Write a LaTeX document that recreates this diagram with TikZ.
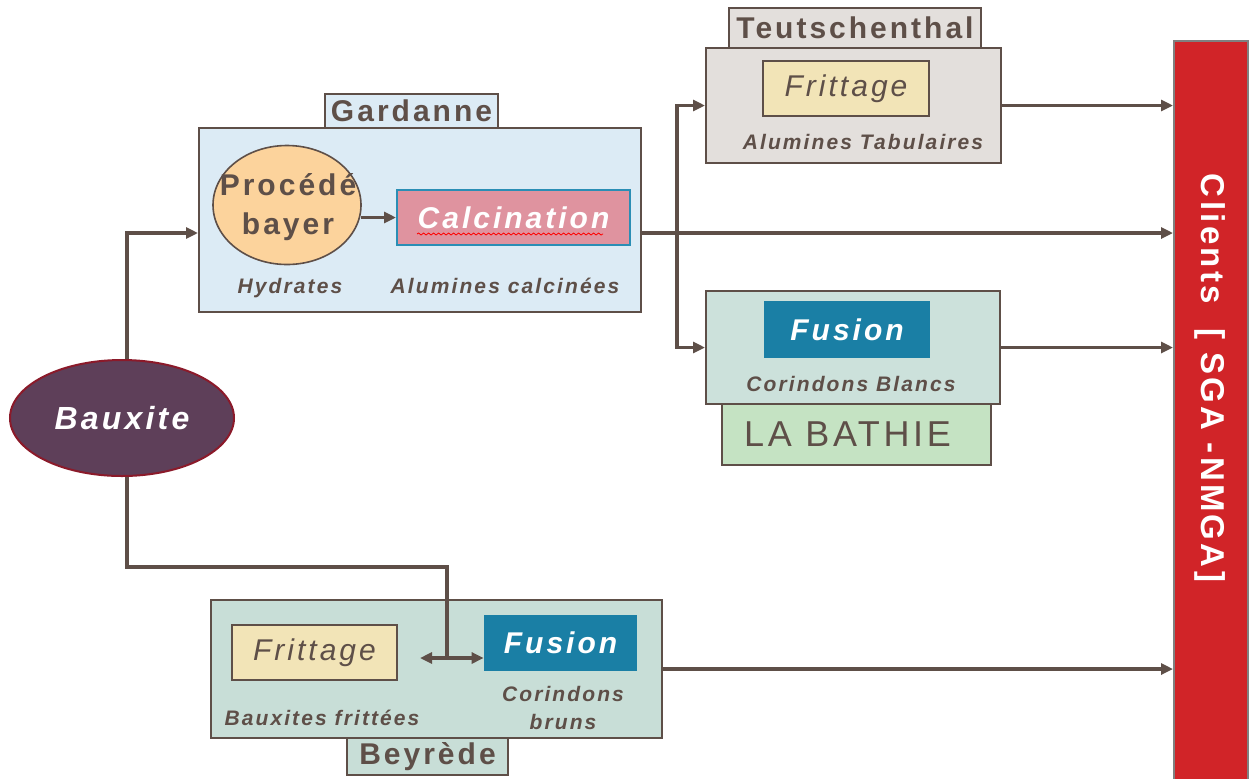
\documentclass[tikz,border=0pt]{standalone}
\usepackage{fontspec}
\setmainfont{Liberation Sans}
\newfontfamily\spf[LetterSpace=10]{Liberation Sans}
\usetikzlibrary{arrows.meta,shapes.geometric,decorations.pathmorphing}
\definecolor{ink}{HTML}{5E4F48}
\definecolor{gardfill}{HTML}{DCEBF5}
\definecolor{teutfill}{HTML}{E3DFDC}
\definecolor{labfill}{HTML}{CCE1DB}
\definecolor{bathfill}{HTML}{C5E3C3}
\definecolor{beyfill}{HTML}{C8DED7}
\definecolor{fritfill}{HTML}{F2E4B7}
\definecolor{fusfill}{HTML}{1A7FA5}
\definecolor{calcfill}{HTML}{DF939F}
\definecolor{calcline}{HTML}{2A8EB5}
\definecolor{bayfill}{HTML}{FCD39C}
\definecolor{bauxfill}{HTML}{5E3F59}
\definecolor{bauxline}{HTML}{8B1A2A}
\definecolor{clientfill}{HTML}{D12428}
\tikzset{
  box/.style={draw=ink, line width=1pt, rectangle, inner sep=0pt},
  sitelabel/.style={font=\spf\bfseries\fontsize{15pt}{17pt}\selectfont, text=ink},
  proc/.style={font=\spf\bfseries\itshape\fontsize{15pt}{17pt}\selectfont},
  sub/.style={font=\spf\bfseries\itshape\fontsize{10.5pt}{14pt}\selectfont, text=ink, align=center},
  arr/.style={draw=ink, line width=1.7pt, -{Triangle[length=6pt,width=5.5pt]}},
  conn/.style={draw=ink, line width=1.7pt}
}
\begin{document}
\begin{tikzpicture}[x=0.5pt,y=-0.5pt]
\useasboundingbox (0,0) rectangle (1251,778);
% Clients bar
\node[box, draw=gray, fill=clientfill, minimum width=37pt, minimum height=374.5pt] (clients) at (1211,415.5) {};
\node[rotate=-90, text=white, font=\spf\bfseries\fontsize{16.5pt}{18pt}\selectfont] (clientstxt) at (1210,378) {Clients\ \ [ SGA -NMGA]};
% Gardanne
\node[box, fill=gardfill, minimum width=221pt, minimum height=92pt] (gard) at (420,220) {};
\node[box, fill=gardfill, minimum width=86.5pt, minimum height=17pt, sitelabel] (gardlbl) at (411.5,111) {Gardanne};
\node[draw=ink, line width=0.8pt, ellipse, fill=bayfill, minimum width=74pt, minimum height=59.5pt, inner sep=0pt] (bayer) at (287,205) {};
\node[sitelabel, align=center, font=\spf\bfseries\fontsize{15pt}{19.5pt}\selectfont] (bayertxt) at (288,207) {Procédé\\bayer};
\node[draw=calcline, line width=1pt, fill=calcfill, minimum width=116.5pt, minimum height=27.5pt, inner sep=0pt, proc, text=white] (calc) at (513.5,217.5) {Calcination};
\draw[red, line width=0.4pt, decorate, decoration={snake, amplitude=0.5pt, segment length=2.5pt}] ([xshift=10.5pt,yshift=6pt]calc.south west) -- ([xshift=-14pt,yshift=6pt]calc.south east);
\node[sub] (hyd) at (290,288) {Hydrates};
\node[sub] (alcal) at (505,286) {Alumines calcinées};
\draw[arr] (bayer.east |- calc.west) ++(-1,0) coordinate (bx) -- (calc.west);
% Teutschenthal
\node[box, fill=teutfill, minimum width=147.5pt, minimum height=57.5pt] (teut) at (853.5,105.5) {};
\node[box, fill=teutfill, minimum width=126pt, minimum height=20pt, sitelabel] (teutlbl) at (855,28) {Teutschenthal};
\node[box, fill=fritfill, minimum width=83pt, minimum height=27.5pt, font=\spf\itshape\fontsize{15pt}{17pt}\selectfont, text=ink] (fritT) at (846,88.5) {\raisebox{-1.5pt}{Frittage}};
\node[sub] (altab) at (863,142) {Alumines Tabulaires};
% La Bathie
\node[box, fill=labfill, minimum width=147pt, minimum height=56.5pt] (lab) at (853,347.5) {};
\node[fill=fusfill, minimum width=83pt, minimum height=28.5pt, inner sep=0pt, proc, text=white] (fusL) at (847,329.5) {Fusion};
\node[sub] (corbl) at (851,384) {Corindons Blancs};
\node[box, fill=bathfill, minimum width=134.5pt, minimum height=30.5pt, text=ink, font=\spf\fontsize{18pt}{20pt}\selectfont] (bath) at (856.5,434.5) {\hspace*{-9pt}LA BATHIE};
% Beyrede
\node[box, fill=beyfill, minimum width=225.5pt, minimum height=69pt] (bey) at (436.5,669) {};
\node[box, fill=beyfill, minimum width=80.5pt, minimum height=18.5pt, sitelabel] (beylbl) at (427.5,756.5) {Beyrède};
\node[box, fill=fritfill, minimum width=82.5pt, minimum height=27.5pt, font=\spf\itshape\fontsize{15pt}{17pt}\selectfont, text=ink] (fritB) at (314.5,652.5) {\raisebox{-1.5pt}{Frittage}};
\node[fill=fusfill, minimum width=76.5pt, minimum height=28pt, inner sep=0pt, proc, text=white] (fusB) at (560.5,643) {Fusion};
\node[sub] (bxfr) at (322,718) {Bauxites frittées};
\node[sub] (corbr) at (563,708) {Corindons\\bruns};
% Bauxite
\node[draw=bauxline, line width=1pt, ellipse, fill=bauxfill, minimum width=112pt, minimum height=58pt, inner sep=0pt, text=white, font=\spf\bfseries\itshape\fontsize{16pt}{18pt}\selectfont] (baux) at (122,418) {Bauxite};
% connectors
\draw[arr] ([xshift=2.5pt]baux.north) |- ([yshift=-6.5pt]gard.west);
\coordinate (g) at ([yshift=-6.5pt]gard.east);
\draw[arr] (g) -- (g -| clients.west);
\coordinate (br) at (677,233);
\draw[arr] (br) |- (teut.west);
\draw[arr] (br) |- (lab.west);
\draw[arr] (teut.east) -- (teut.east -| clients.west);
\draw[arr] (lab.east) -- (lab.east -| clients.west);
\draw[arr] (bey.east) -- (bey.east -| clients.west);
\coordinate (j) at (447,658);
\draw[conn] ([xshift=2.5pt]baux.south) |- (447,567) -- (j);
\draw[arr] (j) -- (j -| fusB.west);
\draw[arr] (j) -- (420,658);
\end{tikzpicture}
\end{document}
